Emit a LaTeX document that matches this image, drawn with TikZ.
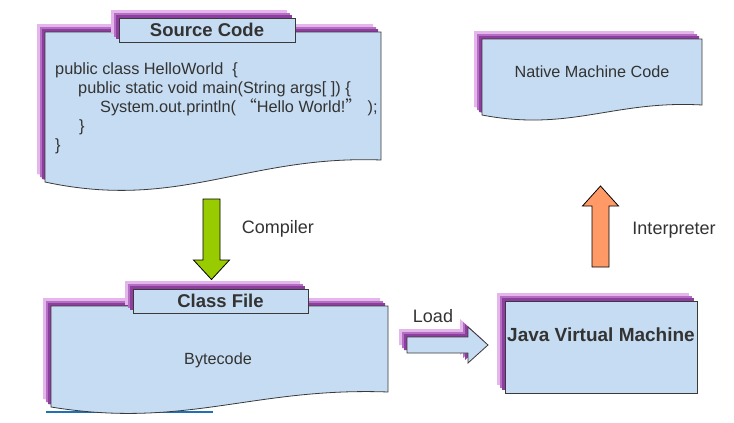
\documentclass[tikz,border=0pt]{standalone}
\usepackage{fontspec}
\setmainfont{Liberation Sans}
\newfontfamily\cjk{Noto Sans CJK SC}
\definecolor{boxfill}{HTML}{C6DCF2}
\definecolor{shA}{HTML}{E4B6EC}
\definecolor{shB}{HTML}{B46EC2}
\definecolor{shC}{HTML}{8E3E9E}
\definecolor{txt}{HTML}{333333}
\definecolor{edge}{HTML}{3A3A3A}
\definecolor{greenarrow}{HTML}{99CC00}
\definecolor{orangearrow}{HTML}{FF9966}
\definecolor{blueline}{HTML}{2070B8}
% #1 style, #2 L, #3 T, #4 R, #5 bottom-left y, #6 bottom-right y, #7 dip
\newcommand\docshape[7]{%
  \path[#1] (#2,#3) -- (#4,#3) -- (#4,#6)
    .. controls ({#2+0.6*(#4-#2)},{#6-5}) and ({#2+0.4*(#4-#2)},{#5+#7}) .. (#2,#5) -- cycle;}
% shadowed doc
\newcommand\shadowdoc[6]{%
  \docshape{fill=shA,shift={(-8,-8)}}{#1}{#2}{#3}{#4}{#5}{#6}%
  \docshape{fill=shB,shift={(-5,-5)}}{#1}{#2}{#3}{#4}{#5}{#6}%
  \docshape{fill=shC,shift={(-3,-3)}}{#1}{#2}{#3}{#4}{#5}{#6}%
  \docshape{boxshape}{#1}{#2}{#3}{#4}{#5}{#6}}
\newcommand\shadowrect[4]{%
  \fill[shA] ({#1-8},{#2-8}) rectangle ({#3-8},{#4-8});
  \fill[shB] ({#1-5},{#2-5}) rectangle ({#3-5},{#4-5});
  \fill[shC] ({#1-3},{#2-3}) rectangle ({#3-3},{#4-3});
  \path[boxshape] (#1,#2) rectangle (#3,#4);}
\tikzset{
  boxshape/.style={fill=boxfill,draw=edge,line width=0.8pt},
  codeline/.style={anchor=base west,inner sep=0,text=txt,font=\fontsize{16.3}{19}\selectfont},
  title/.style={text=txt,inner sep=0,font=\fontsize{18.5}{22}\selectfont\bfseries},
  label/.style={text=txt,inner sep=0,font=\fontsize{18}{21}\selectfont},
  body/.style={text=txt,inner sep=0,font=\fontsize{16.2}{19}\selectfont},
}
\begin{document}
\begin{tikzpicture}[x=1pt,y=-1pt]
\useasboundingbox (0,0) rectangle (734,423);
\fill[white] (0,0) rectangle (734,423);

% ---------- Source Code document ----------
\shadowdoc{45}{32}{381}{182}{160}{29}
\shadowrect{119}{18}{295}{42}
\node[title] (srctitle) at (207,30) {Source Code};
\node[codeline] (c1) at (55,74) {public class HelloWorld\ \ \{};
\node[codeline] (c2) at (78,93) {public static void main(String args[ ]) \{};
\node[codeline] (c3) at (100,112) {System.out.println( {\cjk “}Hello World!{\cjk ”} );};
\node[codeline] (c4) at (79,131) {\}};
\node[codeline] (c5) at (55,150) {\}};

% ---------- Native Machine Code document ----------
\shadowdoc{482}{39}{702}{115}{105}{17}
\node[body] (native) at (592,72) {Native Machine Code};

% ---------- Class File document ----------
\draw[blueline,line width=2.5pt] (46,412) -- (213,412);
\shadowdoc{51}{306}{388}{407}{392}{22}
\shadowrect{133}{289}{308}{313}
\node[title] (clstitle) at (220.5,301) {Class File};
\node[body] (bytecode) at (218,360) {Bytecode};

% ---------- JVM ----------
\shadowrect{505}{301}{697}{393}
\node[title,font=\fontsize{19}{22}\selectfont\bfseries] (jvm) at (601,335) {Java Virtual Machine};

% ---------- Compiler arrow ----------
\draw[fill=greenarrow,draw=black,line width=0.8pt,line join=miter]
  (203,199) -- (220,199) -- (220,260) -- (229.5,260) -- (211.5,279.5)
  -- (193.5,260) -- (203,260) -- cycle;
\node[label] (compiler) at (278,229) {Compiler};

% ---------- Interpreter arrow ----------
\draw[fill=orangearrow,draw=black,line width=0.8pt,line join=miter]
  (592,267) -- (609,267) -- (609,206) -- (618.5,206) -- (600.5,186)
  -- (582.5,206) -- (592,206) -- cycle;
\node[label] (interp) at (674,230) {Interpreter};

% ---------- Load arrow ----------
\foreach \s/\c in {8/shA,5/shB,3/shC}{
  \fill[\c,shift={(-\s,-\s)}] (407,337) -- (468,337) -- (468,327) -- (488,345)
    -- (468,363) -- (468,353) -- (407,353) -- cycle;
}
\path[boxshape] (407,337) -- (468,337) -- (468,327) -- (488,345)
    -- (468,363) -- (468,353) -- (407,353) -- cycle;
\node[label] (load) at (433,316) {Load};
\end{tikzpicture}
\end{document}
